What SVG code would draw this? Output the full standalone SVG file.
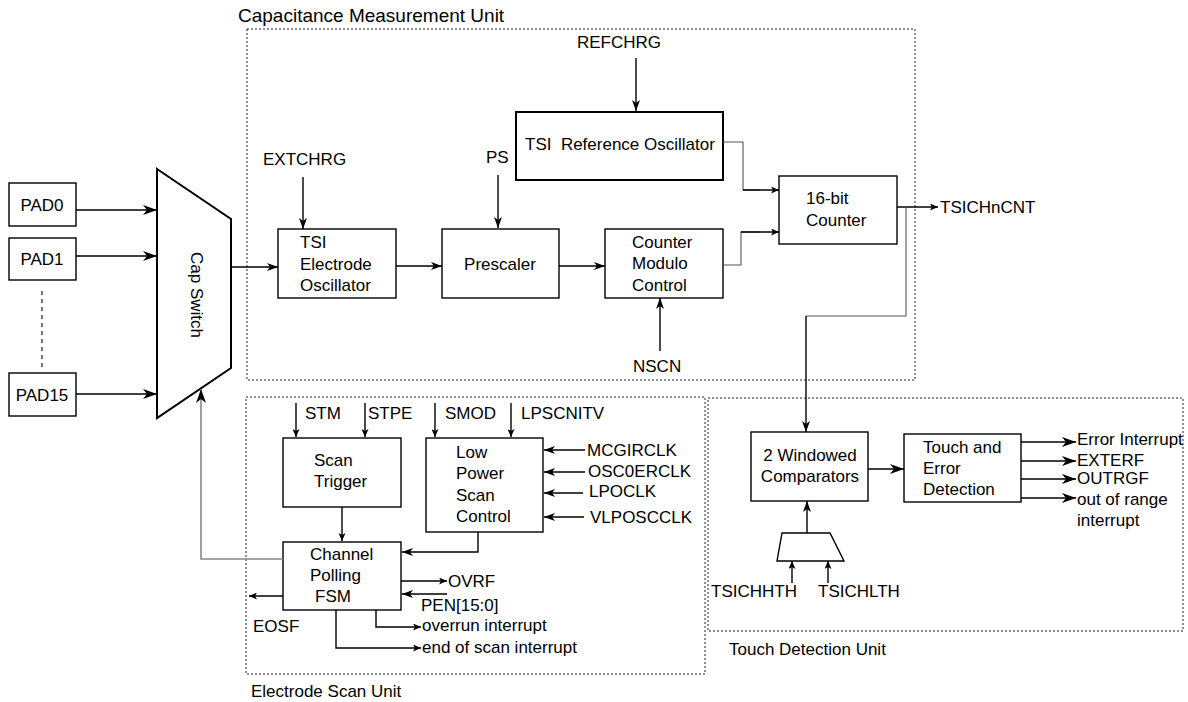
<svg xmlns="http://www.w3.org/2000/svg" width="1188" height="702" viewBox="0 0 1188 702">
<style>
text{font-family:"Liberation Sans",Arial,sans-serif;font-size:17px;fill:#000}
.title{font-size:19px}
.box{fill:#fff;stroke:#000;stroke-width:1.4}
.thick{fill:#fff;stroke:#000;stroke-width:2}
.unit{fill:none;stroke:#222;stroke-width:1;stroke-dasharray:2,2}
.w{fill:none;stroke:#000;stroke-width:1.4}
.g{fill:none;stroke:#555;stroke-width:1.1}
.gr{fill:none;stroke:#888;stroke-width:1.6}
</style>
<defs>
<marker id="ab" markerUnits="userSpaceOnUse" markerWidth="14" markerHeight="10" viewBox="0 0 14 10" refX="14" refY="5" orient="auto"><path d="M0,0 L14,5 L0,10 L4,5 Z" fill="#000"/></marker>
<marker id="am" markerUnits="userSpaceOnUse" markerWidth="11" markerHeight="8" viewBox="0 0 11 8" refX="11" refY="4" orient="auto"><path d="M0,0 L11,4 L0,8 L3,4 Z" fill="#000"/></marker>
<marker id="as" markerUnits="userSpaceOnUse" markerWidth="8" markerHeight="7" viewBox="0 0 8 7" refX="8" refY="3.5" orient="auto"><path d="M0,0 L8,3.5 L0,7 L2,3.5 Z" fill="#000"/></marker>
<marker id="ag" markerUnits="userSpaceOnUse" markerWidth="14" markerHeight="10" viewBox="0 0 14 10" refX="14" refY="5" orient="auto"><path d="M0,0 L14,5 L0,10 L4,5 Z" fill="#000"/></marker>
</defs>

<g id="capacitance-measurement-unit">
<rect class="unit" x="247" y="29" width="668" height="351"/>
<text class="title" x="238" y="22">Capacitance Measurement Unit</text>
</g>
<g id="electrode-scan-unit">
<rect class="unit" x="246" y="397" width="459" height="277"/>
<text x="251" y="697">Electrode Scan Unit</text>
</g>
<g id="touch-detection-unit">
<rect class="unit" x="708" y="398" width="475" height="233"/>
<text x="729" y="655">Touch Detection Unit</text>
</g>

<g id="pad0"><rect class="box" x="9" y="183" width="67" height="43"/><text x="42" y="211" text-anchor="middle">PAD0</text></g>
<g id="pad1"><rect class="box" x="9" y="238" width="67" height="42"/><text x="42" y="265" text-anchor="middle">PAD1</text></g>
<g id="pad15"><rect class="box" x="9" y="373" width="67" height="43"/><text x="42" y="401" text-anchor="middle">PAD15</text></g>

<g id="cap-switch">
<polygon class="thick" points="157,169 231,219 231,368 157,418"/>
<text transform="translate(191,295) rotate(90)" text-anchor="middle">Cap Switch</text>
</g>

<g id="tsi-electrode-oscillator">
<rect class="box" x="278" y="229" width="118" height="69"/>
<text x="300" y="248">TSI</text><text x="300" y="270">Electrode</text><text x="300" y="291">Oscillator</text>
</g>
<g id="prescaler">
<rect class="box" x="442" y="229" width="117" height="69"/>
<text x="500" y="270" text-anchor="middle">Prescaler</text>
</g>
<g id="counter-modulo-control">
<rect class="box" x="605" y="229" width="118" height="69"/>
<text x="632" y="248">Counter</text><text x="632" y="269">Modulo</text><text x="632" y="291">Control</text>
</g>
<g id="tsi-reference-oscillator">
<rect class="thick" x="516" y="112" width="207" height="68"/>
<text x="525" y="150">TSI&#160; Reference Oscillator</text>
</g>
<g id="counter-16bit">
<rect class="box" x="779" y="176" width="118" height="68"/>
<text x="806" y="204">16-bit</text><text x="806" y="226">Counter</text>
</g>

<g id="windowed-comparators">
<rect class="box" x="751" y="432" width="117" height="69"/>
<text x="810" y="461" text-anchor="middle">2 Windowed</text><text x="810" y="482" text-anchor="middle">Comparators</text>
</g>
<g id="touch-error-detection">
<rect class="box" x="904" y="434" width="117" height="68"/>
<text x="923" y="453">Touch and</text><text x="923" y="474">Error</text><text x="923" y="495">Detection</text>
</g>
<g id="threshold-mux">
<polygon class="box" points="782,533 830,533 844,561 777,561"/>
</g>

<g id="scan-trigger">
<rect class="box" x="283" y="438" width="118" height="69"/>
<text x="314" y="466">Scan</text><text x="314" y="487">Trigger</text>
</g>
<g id="low-power-scan-control">
<rect class="box" x="426" y="438" width="117" height="94"/>
<text x="456" y="458">Low</text><text x="456" y="479">Power</text><text x="456" y="501">Scan</text><text x="456" y="522">Control</text>
</g>
<g id="channel-polling-fsm">
<rect class="box" x="283" y="542" width="118" height="68"/>
<text x="310" y="560">Channel</text><text x="310" y="581">Polling</text><text x="315" y="602">FSM</text>
</g>

<g id="connectors">
<line x1="42" y1="291" x2="42" y2="371" stroke="#333" stroke-width="1.3" stroke-dasharray="4,4"/>
<line class="w" x1="76" y1="210" x2="157" y2="210" marker-end="url(#ab)"/>
<line class="w" x1="76" y1="256" x2="157" y2="256" marker-end="url(#ab)"/>
<line class="w" x1="76" y1="394" x2="157" y2="394" marker-end="url(#ab)"/>
<line class="w" x1="231" y1="267" x2="278" y2="267" marker-end="url(#am)"/>
<line class="w" x1="303" y1="177" x2="303" y2="229" marker-end="url(#am)"/>
<line class="w" x1="396" y1="266" x2="442" y2="266" marker-end="url(#am)"/>
<line class="w" x1="498" y1="175" x2="498" y2="228" marker-end="url(#am)"/>
<line class="w" x1="559" y1="266" x2="605" y2="266" marker-end="url(#am)"/>
<line class="w" x1="636" y1="58" x2="636" y2="111" marker-end="url(#am)"/>
<line class="w" x1="660" y1="351" x2="660" y2="298" marker-end="url(#am)"/>
<polyline class="g" points="723,142 743,142 743,190 760,190"/>
<line class="w" x1="743" y1="190" x2="779" y2="190" marker-end="url(#as)"/>
<polyline class="g" points="723,265 741,265 741,232 760,232"/>
<line class="w" x1="741" y1="232" x2="779" y2="232" marker-end="url(#as)"/>
<line class="w" x1="897" y1="207" x2="938" y2="207" marker-end="url(#as)"/>
<polyline class="g" points="906,207 906,316 806,316"/>
<line class="w" x1="806" y1="316" x2="806" y2="432" marker-end="url(#am)"/>
<line class="w" x1="868" y1="469" x2="904" y2="469" marker-end="url(#ab)"/>
<line class="w" x1="1021" y1="442" x2="1076" y2="442" marker-end="url(#ab)"/>
<line class="w" x1="1021" y1="461" x2="1076" y2="461" marker-end="url(#ab)"/>
<line class="w" x1="1021" y1="479" x2="1076" y2="479" marker-end="url(#ab)"/>
<line class="w" x1="1021" y1="498" x2="1076" y2="498" marker-end="url(#ab)"/>
<line class="w" x1="807" y1="533" x2="807" y2="501" marker-end="url(#am)"/>
<line class="w" x1="792" y1="583" x2="792" y2="561" marker-end="url(#as)"/>
<line class="w" x1="828" y1="583" x2="828" y2="561" marker-end="url(#as)"/>
<line class="w" x1="296" y1="403" x2="296" y2="437" marker-end="url(#as)"/>
<line class="w" x1="365" y1="403" x2="365" y2="437" marker-end="url(#as)"/>
<line class="w" x1="435" y1="403" x2="435" y2="437" marker-end="url(#as)"/>
<line class="w" x1="511" y1="403" x2="511" y2="437" marker-end="url(#as)"/>
<line class="w" x1="585" y1="450" x2="544" y2="450" marker-end="url(#am)"/>
<line class="w" x1="585" y1="472" x2="544" y2="472" marker-end="url(#am)"/>
<line class="w" x1="583" y1="493" x2="544" y2="493" marker-end="url(#am)"/>
<line class="w" x1="584" y1="517" x2="544" y2="517" marker-end="url(#am)"/>
<line class="w" x1="342" y1="507" x2="342" y2="541" marker-end="url(#as)"/>
<polyline class="w" points="478,532 478,552 402,552" marker-end="url(#am)"/>
<line class="w" x1="401" y1="581" x2="447" y2="581" marker-end="url(#as)"/>
<line class="w" x1="447" y1="594" x2="402" y2="594" marker-end="url(#am)"/>
<line class="w" x1="283" y1="596" x2="249" y2="596" marker-end="url(#as)"/>
<polyline class="w" points="376,610 376,627 421,627" marker-end="url(#as)"/>
<polyline class="w" points="336,610 336,648 421,648" marker-end="url(#as)"/>
<polyline class="gr" points="283,559 201,559 201,389" marker-end="url(#ag)"/>
</g>

<g id="labels">
<text x="263" y="165">EXTCHRG</text>
<text x="486" y="163">PS</text>
<text x="577" y="48">REFCHRG</text>
<text x="633" y="372">NSCN</text>
<text x="940" y="213">TSICHnCNT</text>
<text x="1077" y="445">Error Interrupt</text>
<text x="1077" y="466">EXTERF</text>
<text x="1077" y="484">OUTRGF</text>
<text x="1077" y="505">out of range</text>
<text x="1077" y="526">interrupt</text>
<text x="711" y="597">TSICHHTH</text>
<text x="818" y="597">TSICHLTH</text>
<text x="305" y="419">STM</text>
<text x="368" y="419">STPE</text>
<text x="445" y="419">SMOD</text>
<text x="521" y="419">LPSCNITV</text>
<text x="587" y="456">MCGIRCLK</text>
<text x="588" y="477">OSC0ERCLK</text>
<text x="589" y="497">LPOCLK</text>
<text x="590" y="523">VLPOSCCLK</text>
<text x="448" y="587">OVRF</text>
<text x="421" y="611">PEN[15:0]</text>
<text x="253" y="632">EOSF</text>
<text x="422" y="631">overrun interrupt</text>
<text x="422" y="653">end of scan interrupt</text>
</g>
</svg>
